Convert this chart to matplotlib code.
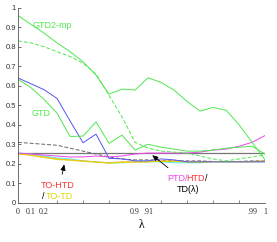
import numpy as np
import matplotlib.pyplot as plt

# lambda values are plotted by index, labelled at a few positions
lam_idx = np.arange(20)
lam_label_pos = [0, 1, 2, 9, 10, 18, 19]
lam_labels = ["0", "0.1", "0.2", "0.9", ".91", ".99", "1"]

gtd2mp = [0.96, 0.915, 0.87, 0.82, 0.775, 0.723, 0.655, 0.557, 0.583, 0.578,
          0.641, 0.617, 0.578, 0.52, 0.47, 0.489, 0.475, 0.40, 0.31, 0.22]
gtd2mp_dash = [0.83, 0.82, 0.80, 0.775, 0.75, 0.716, 0.66, 0.55, 0.44, 0.31,
               0.28, 0.265, 0.26, 0.255, 0.24, 0.225, 0.215, 0.225, 0.235, 0.245]
gtd = [0.633, 0.59, 0.53, 0.46, 0.34, 0.342, 0.415, 0.305, 0.347, 0.27,
       0.30, 0.285, 0.275, 0.265, 0.265, 0.27, 0.28, 0.285, 0.29, 0.25]
blue = [0.64, 0.61, 0.58, 0.535, 0.42, 0.308, 0.352, 0.228, 0.225, 0.215,
        0.215, 0.225, 0.22, 0.21, 0.21, 0.21, 0.21, 0.21, 0.21, 0.21]
gray_dash = [0.31, 0.305, 0.30, 0.295, 0.28, 0.265, 0.25, 0.235, 0.225, 0.22,
             0.22, 0.218, 0.215, 0.215, 0.215, 0.212, 0.21, 0.212, 0.215, 0.215]
td_lambda = [0.253] * 20
ptd = [0.255, 0.25, 0.245, 0.24, 0.235, 0.235, 0.24, 0.235, 0.24, 0.25,
       0.255, 0.255, 0.255, 0.255, 0.26, 0.27, 0.275, 0.29, 0.31, 0.345]
cyan = [0.255, 0.25, 0.24, 0.23, 0.225, 0.215, 0.21, 0.205, 0.205, 0.21,
        0.21, 0.21, 0.205, 0.205, 0.205, 0.21, 0.21, 0.21, 0.21, 0.21]
to_td = [0.25, 0.245, 0.235, 0.225, 0.22, 0.215, 0.21, 0.205, 0.21, 0.21,
         0.21, 0.215, 0.215, 0.21, 0.21, 0.212, 0.212, 0.21, 0.212, 0.215]
to_htd = [0.252, 0.243, 0.232, 0.222, 0.218, 0.212, 0.208, 0.203, 0.207, 0.208,
          0.21, 0.212, 0.212, 0.21, 0.208, 0.21, 0.21, 0.21, 0.21, 0.212]

GREEN = "#4ee84e"
MAGENTA = "#ee44ee"
RED = "#ff3333"
YELLOW = "#e0d800"

fig = plt.figure(figsize=(2.77, 2.42), dpi=100)
ax = fig.add_axes([0.065, 0.162, 0.892, 0.806])

lw = 0.7
ax.plot(lam_idx, td_lambda, color="#777777", lw=0.9)
ax.plot(lam_idx, gray_dash, color="#666666", lw=lw, ls="--", dashes=(4, 2))
ax.plot(lam_idx, cyan, color="#44eeee", lw=lw)
ax.plot(lam_idx, to_td, color="#ffaa33", lw=lw)
ax.plot(lam_idx, to_htd, color=YELLOW, lw=lw)
ax.plot(lam_idx, ptd, color=MAGENTA, lw=lw)
ax.plot(lam_idx, blue, color="#5555ee", lw=lw)
ax.plot(lam_idx, gtd, color=GREEN, lw=lw)
ax.plot(lam_idx, gtd2mp_dash, color=GREEN, lw=lw, ls="--", dashes=(4, 2))
ax.plot(lam_idx, gtd2mp, color=GREEN, lw=lw)

ax.set_xlim(0, 19)
ax.set_ylim(0, 1)
for s in ["top", "right"]:
    ax.spines[s].set_visible(False)
for s in ["left", "bottom"]:
    ax.spines[s].set_linewidth(0.6)
    ax.spines[s].set_color("#555555")

ax.set_yticks(np.arange(0, 1.01, 0.1))
ax.set_yticklabels(["0"] + [f"{v:.1f}" for v in np.arange(0.1, 0.95, 0.1)] + ["1"],
                   fontsize=5.5, family="Liberation Sans")
ax.tick_params(axis="y", direction="in", length=2.5, width=0.5, pad=1.5, colors="#333333")

ax.set_xticks(lam_label_pos)
ax.set_xticklabels(lam_labels, fontsize=5.8, family="Liberation Serif")
ax.set_xticks(np.arange(1, 20, 2), minor=True)
ax.tick_params(axis="x", which="major", length=0, pad=3.5, colors="#333333")
ax.tick_params(axis="x", which="minor", direction="in", length=2.5, width=0.5, colors="#555555")
ax.set_xlabel("λ", fontsize=8.5, family="Liberation Serif", labelpad=2.5)

tf = dict(fontsize=6.5, family="Liberation Sans", va="center", ha="left")
ax.text(1.15, 0.911, "GTD2-mp", color=GREEN, **tf)
ax.text(1.0, 0.46, "GTD", color=GREEN, **tf)
ax.text(1.77, 0.091, "TO-HTD", color=RED, **tf)
ax.text(1.85, 0.034, "/", color="black", **tf)
ax.text(2.1, 0.034, "TO-TD", color=YELLOW, **tf)
ax.text(11.46, 0.127, "PTD/", color=MAGENTA, **tf)
ax.text(12.95, 0.127, "HTD", color=RED, **tf)
ax.text(14.4, 0.127, "/", color="black", **tf)
ax.text(12.23, 0.07, "TD(λ)", color="black", **tf)

arrow = dict(arrowstyle="-|>,head_length=0.35,head_width=0.15", color="black", lw=0.6)
ax.annotate("", xy=(3.6, 0.211), xytext=(3.35, 0.132), arrowprops=arrow)
ax.annotate("", xy=(10.15, 0.253), xytext=(11.7, 0.171), arrowprops=arrow)

fig.savefig("out.png", dpi=100)
